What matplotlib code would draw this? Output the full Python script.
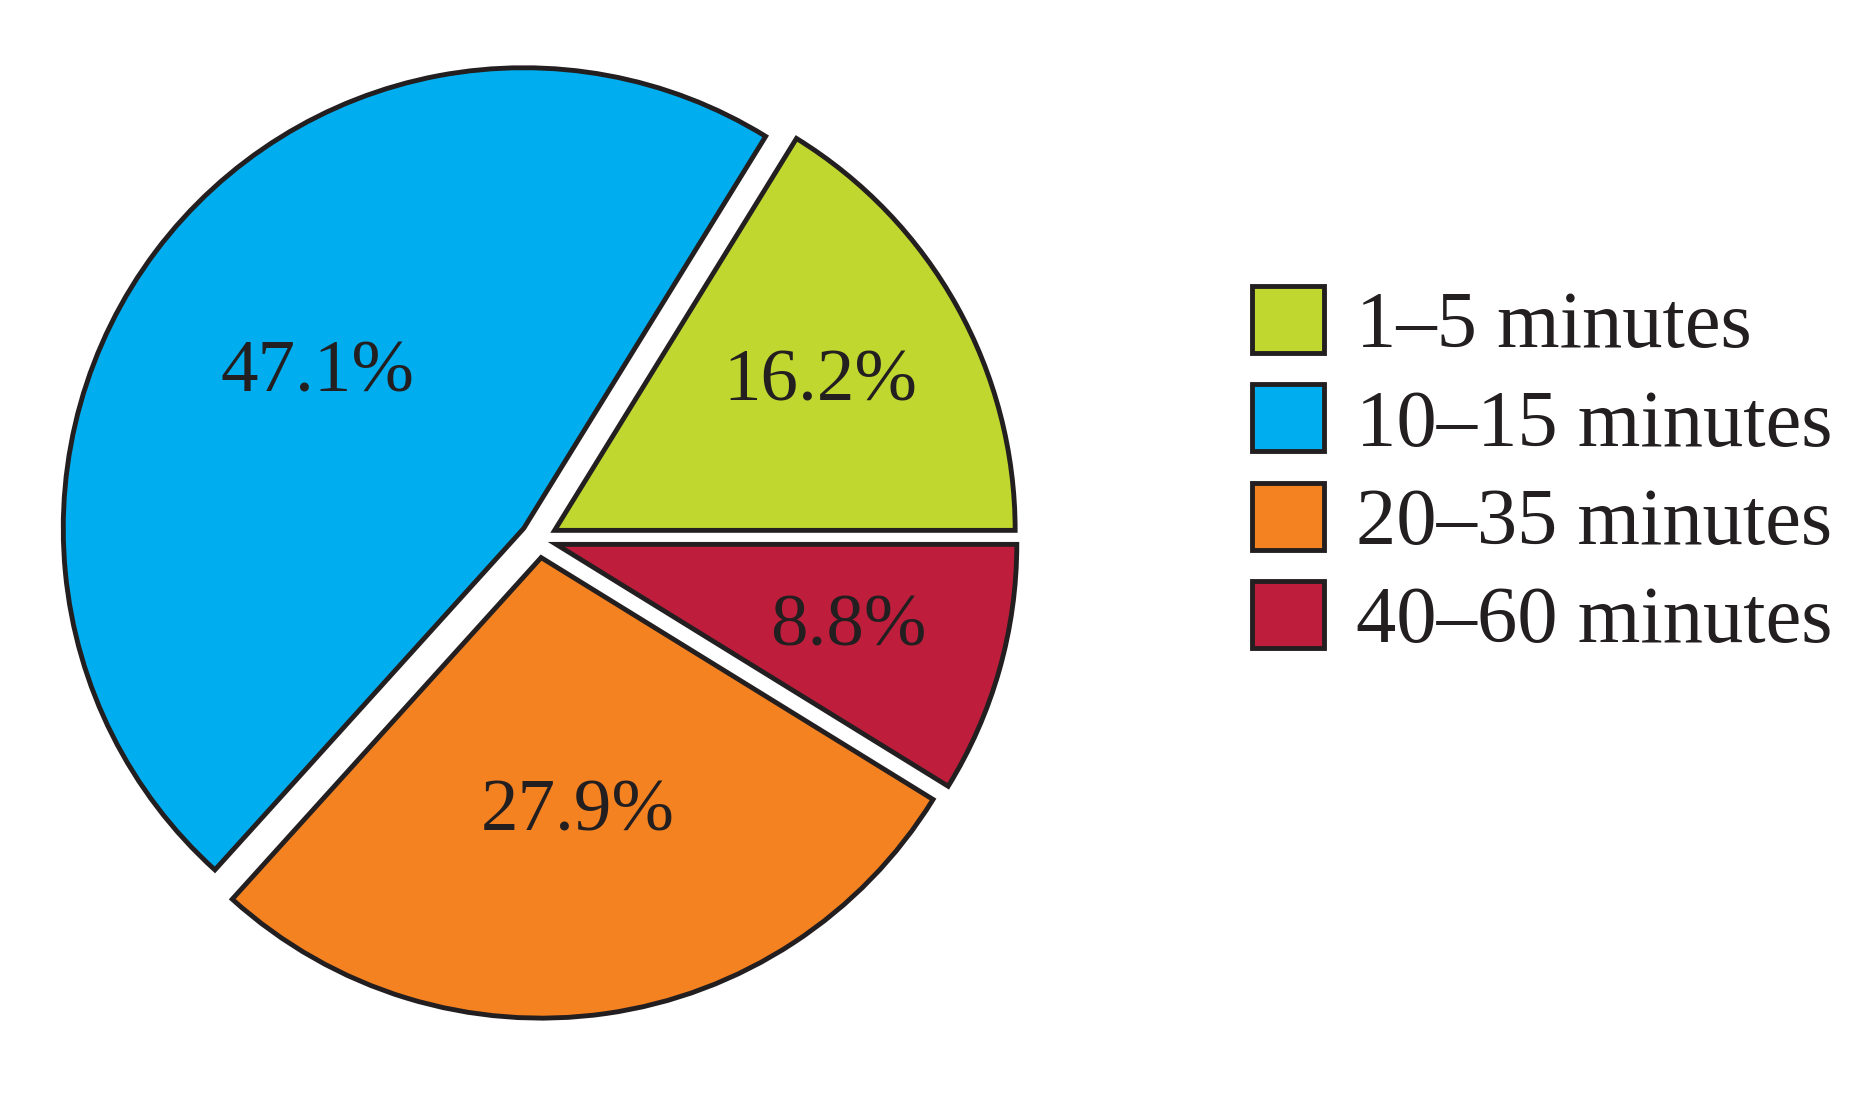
import numpy as np
import matplotlib.pyplot as plt
from matplotlib.patches import Patch

labels = ['1–5 minutes', '10–15 minutes', '20–35 minutes', '40–60 minutes']
values = [16.2, 47.1, 27.9, 8.8]
colors = ['#c0d72f', '#00aeef', '#f58220', '#be1e3c']

plt.rcParams['font.family'] = ['Liberation Serif', 'DejaVu Serif']

fig = plt.figure(figsize=(18.57, 10.94), dpi=100)
ax = fig.add_axes([-0.02, -0.038, 0.62, 1.09])
wedges, texts = ax.pie(values, colors=colors, startangle=0, counterclock=True,
                       explode=[0.04] * 4,
                       wedgeprops=dict(edgecolor='#231f20', linewidth=3.5))
ax.set_aspect('equal')

for w, v in zip(wedges, values):
    ang = np.deg2rad((w.theta1 + w.theta2) / 2)
    r = 0.6 if v > 20 else 0.7
    ax.text(r * np.cos(ang), r * np.sin(ang), f'{v}%', ha='center', va='center',
            fontsize=54, color='#231f20')

handles = [Patch(facecolor=c, edgecolor='#231f20', linewidth=3.5) for c in colors]
fig.legend(handles, labels, loc='center left', bbox_to_anchor=(0.635, 0.568),
           frameon=False, fontsize=58, handlelength=0.9, handleheight=0.9,
           handletextpad=0.4, labelspacing=0.25, labelcolor='#231f20')

fig.savefig('out.png', dpi=100)
